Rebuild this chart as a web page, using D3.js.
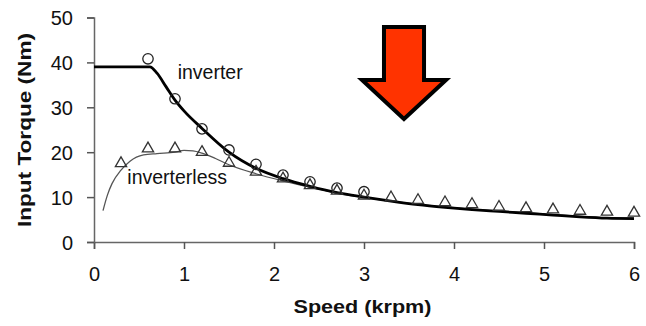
<!DOCTYPE html>
<html><head><meta charset="utf-8">
<script src="https://cdn.jsdelivr.net/npm/d3@7/dist/d3.min.js"></script>
<style>html,body{margin:0;padding:0;background:#fff;}svg{display:block;font-family:"Liberation Sans",Arial,sans-serif;}</style>
</head><body>
<svg id="c" width="646" height="326"></svg>
<script>
// ---- data ----
const xTicks = [0,1,2,3,4,5,6];
const yTicks = [0,10,20,30,40,50];
const invX = [0.6,0.9,1.2,1.5,1.8,2.1,2.4,2.7,3.0];
const invY = [40.8,31.9,25.2,20.5,17.3,14.9,13.4,12.0,11.2];
const lessX = [0.3,0.6,0.9,1.2,1.5,1.8,2.1,2.4,2.7,3.0,3.3,3.6,3.9,4.2,4.5,4.8,5.1,5.4,5.7,6.0];
const lessY = [17.5,20.8,20.8,20.0,17.6,15.6,14.1,12.6,11.4,10.3,9.9,9.3,8.8,8.4,7.8,7.5,7.2,6.9,6.7,6.5];
const invCurveX = [0,0.62,0.7,0.8,0.9,1.0,1.2,1.5,1.8,2.1,2.4,2.7,3.0,3.3,3.6,3.9,4.2,4.5,4.8,5.1,5.4,5.7,6.0];
const invCurveY = [39,39,37.6,34.6,31.6,29.2,25.3,20.0,16.4,14.1,12.4,11.0,10.0,9.1,8.3,7.7,7.2,6.8,6.4,6.0,5.6,5.3,5.2];
const lessCurveX = [0.1,0.15,0.2,0.3,0.4,0.55,0.7,0.9,1.0,1.1,1.2,1.35,1.5,1.8,2.1,2.4,2.7,3.0,3.3,3.6,3.9,4.2,4.5,4.8,5.1,5.4,5.7,6.0];
const lessCurveY = [7.0,10.5,13.0,16.0,18.0,19.4,19.7,20.0,20.4,20.3,19.8,18.6,17.2,15.2,13.6,12.2,10.9,9.9,9.1,8.4,7.8,7.3,6.9,6.5,6.1,5.7,5.4,5.3];
const labelInv = "inverter", labelLess = "inverterless";
const xTitle = "Speed (krpm)", yTitle = "Input Torque (Nm)";
// arrow annotation in data units
const arrowX = [3.222,3.667,3.667,3.911,3.444,2.978,3.222];
const arrowY = [47.9,47.9,36.1,36.1,27.4,36.1,36.1];

const svg = d3.select("#c");
const x = d3.scaleLinear().domain([0,6]).range([94,634]);
const y = d3.scaleLinear().domain([0,50]).range([242,17.5]);

// axes
const gx = svg.append("g").attr("transform",`translate(0,${y(0)})`)
  .call(d3.axisBottom(x).tickValues(xTicks).tickSize(7).tickPadding(18).tickFormat(d3.format("d")));
const gy = svg.append("g").attr("transform",`translate(${x(0)},0)`)
  .call(d3.axisLeft(y).tickValues(yTicks).tickSize(7).tickPadding(14).tickFormat(d3.format("d")));
[gx,gy].forEach(g=>{
  g.select(".domain").attr("stroke","#666").attr("stroke-width",1.5);
  g.selectAll(".tick line").attr("stroke","#555").attr("stroke-width",1.5);
  g.selectAll(".tick text").attr("font-size",20).attr("fill","#111").attr("font-family","'Liberation Sans',Arial,sans-serif");
});
gy.selectAll(".tick text").attr("dy","0.36em");

// lines
const line = d3.line().x(d=>x(d[0])).y(d=>y(d[1])).curve(d3.curveMonotoneX);
svg.append("path").attr("d",line(d3.zip(lessCurveX,lessCurveY))).attr("fill","none").attr("stroke","#555").attr("stroke-width",1.3);
svg.append("path").attr("d",line(d3.zip(invCurveX,invCurveY))).attr("fill","none").attr("stroke","#000").attr("stroke-width",2.8);

// markers
svg.append("g").selectAll("circle").data(d3.zip(invX,invY)).join("circle")
  .attr("cx",d=>x(d[0])).attr("cy",d=>y(d[1])).attr("r",5.2)
  .attr("fill","none").attr("stroke","#222").attr("stroke-width",1.3);
const tri = d3.symbol().type(d3.symbolTriangle).size(55);
svg.append("g").selectAll("path").data(d3.zip(lessX,lessY)).join("path")
  .attr("d",tri).attr("transform",d=>`translate(${x(d[0])},${y(d[1])})`)
  .attr("fill","none").attr("stroke","#333").attr("stroke-width",1.3);

// labels
svg.append("text").attr("x",x(0.93)).attr("y",y(36.3)).attr("font-size",19.5).attr("fill","#111").text(labelInv);
svg.append("text").attr("x",x(0.37)).attr("y",y(12.9)).attr("font-size",19.5).attr("fill","#111").text(labelLess);

// arrow
svg.append("path").attr("d", d3.line()(d3.zip(arrowX.map(x),arrowY.map(y)))+"Z")
  .attr("fill","#FF3300").attr("stroke","#000").attr("stroke-width",4).attr("stroke-linejoin","miter");

// titles
svg.append("text").attr("x",362.5).attr("y",313).attr("text-anchor","middle")
  .attr("font-weight","bold").attr("font-size",19).attr("fill","#111")
  .attr("textLength",138).attr("lengthAdjust","spacingAndGlyphs").text(xTitle);
svg.append("text").attr("transform","translate(31,130) rotate(-90)").attr("text-anchor","middle")
  .attr("font-weight","bold").attr("font-size",18).attr("fill","#111")
  .attr("textLength",194).attr("lengthAdjust","spacingAndGlyphs").text(yTitle);
</script>
</body></html>
